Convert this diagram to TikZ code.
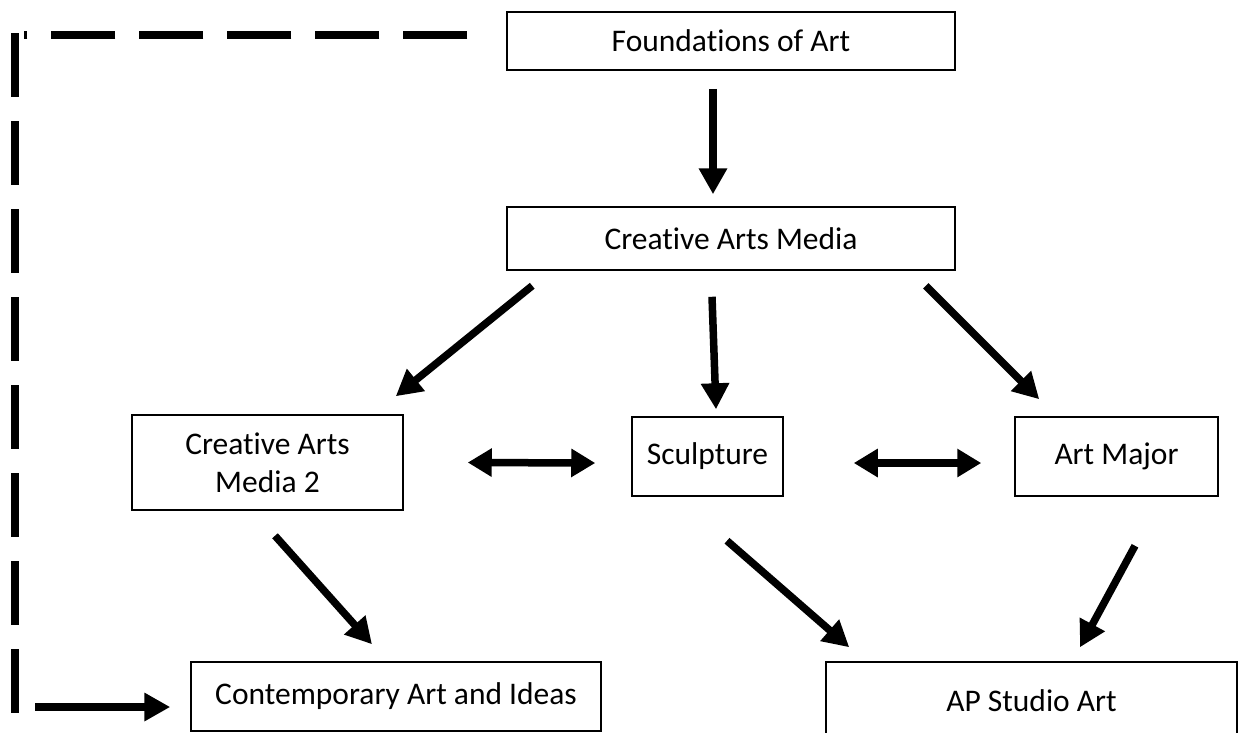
\documentclass[tikz,border=0pt]{standalone}
\usepackage{fontspec}
\setmainfont{Carlito}[Ligatures=NoCommon]
\usetikzlibrary{arrows.meta}

\begin{document}
\begin{tikzpicture}[x=1pt, y=-1pt,
	box/.style={draw, line width=1.5pt, fill=white, align=center, inner sep=0pt,
		font=\fontsize{31.5}{38}\selectfont},
	arr/.style={line width=7.5pt, -{Triangle[length=26pt, width=27pt]}},
	dblarr/.style={line width=7.5pt, {Triangle[length=24pt, width=27pt]}-{Triangle[length=24pt, width=27pt]}},
	border/.style={line width=8pt, dash pattern=on 64pt off 24pt}]

	\clip (0,0) rectangle (1238,732);

	% boxes
	\node[box, minimum width=448pt, minimum height=58pt] (found) at (731,41) {Foundations of Art};
	\node[box, minimum width=448pt, minimum height=63pt] (cam) at (731,238.5) {Creative Arts Media};
	\node[box, minimum width=271pt, minimum height=95pt] (cam2) at (267.5,462.5) {Creative Arts\\Media 2};
	\node[box, minimum width=151pt, minimum height=79pt] (sculp) at (707.5,456.5) {Sculpture};
	\node[box, minimum width=203pt, minimum height=79pt] (major) at (1116.5,456.5) {Art Major};
	\node[box, minimum width=410pt, minimum height=69pt] (contemp) at (396,696.5) {Contemporary Art and Ideas};
	\node[box, minimum width=411pt, minimum height=78pt] (ap) at (1031.5,701) {AP Studio Art};

	% dashed return line
	\coordinate (bendtop) at (24,34.5);
	\coordinate (bendside) at (15,33);
	\coordinate (bendfoot) at (15,713);
	\coordinate (tail) at (35,707);
	\draw[border] ([shift={(-39,-6.5)}]found.west) -- (bendtop);
	\draw[border] (bendside) -- (bendfoot);
	\draw[arr] (tail) -- ([shift={(-20,10.5)}]contemp.west);

	% arrows
	\draw[arr] ([shift={(-18,18)}]found.south) -- ([shift={(-18,-12)}]cam.north);
	\draw[arr] ([shift={(26,15)}]cam.south west) -- ([shift={(-8,-18)}]cam2.north east);
	\draw[arr] ([shift={(-19,26)}]cam.south) -- ([shift={(8.5,-7)}]sculp.north);
	\draw[arr] ([shift={(-30,15)}]cam.south east) -- ([shift={(25,-17)}]major.north west);

	\draw[dblarr] ([shift={(64,0)}]cam2.east) -- ([shift={(-36,6.5)}]sculp.west);
	\draw[dblarr] ([shift={(70,6.5)}]sculp.east) -- ([shift={(-33,6.5)}]major.west);

	\draw[arr] ([shift={(7.5,25)}]cam2.south) -- ([shift={(-24,-17)}]contemp.north);
	\draw[arr] ([shift={(19.5,44)}]sculp.south) -- ([shift={(24,-14)}]ap.north west);
	\draw[arr] ([shift={(18.5,49)}]major.south) -- ([shift={(48.5,-14)}]ap.north);

\end{tikzpicture}
\end{document}
